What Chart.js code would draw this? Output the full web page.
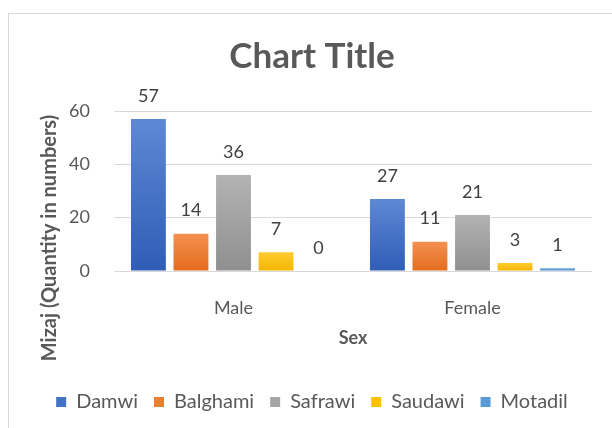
<!DOCTYPE html>
<html>
<head>
<meta charset="utf-8">
<script src="https://cdn.jsdelivr.net/npm/chart.js@4/dist/chart.umd.min.js"></script>
<style>
  html, body { margin: 0; padding: 0; background: #ffffff; overflow: hidden; width: 612px; height: 428px; }
  #frame { position: absolute; left: 8px; top: 13px; width: 700px; height: 500px; border: 1px solid #d9d9d9; box-sizing: border-box; }
  #c { position: absolute; left: 0; top: 0; }
</style>
</head>
<body>
<div id="frame"></div>
<canvas id="c" width="612" height="428"></canvas>
<script>
// ---- data ----
const categories = ['Male', 'Female'];
const seriesNames = ['Damwi', 'Balghami', 'Safrawi', 'Saudawi', 'Motadil'];
const damwi    = [57, 27];
const balghami = [14, 11];
const safrawi  = [36, 21];
const saudawi  = [7, 3];
const motadil  = [0, 1];
const yTicks   = [0, 20, 40, 60];
const chartTitle = 'Chart Title';
const xTitle = 'Sex';
const yTitle = 'Mizaj (Quantity in numbers)';

// ---- styles ----
const seriesValues = [damwi, balghami, safrawi, saudawi, motadil];
const solid = ['#4472C4', '#ED7D31', '#A5A5A5', '#FFC000', '#5B9BD5'];
const gradTop = ['#5F88D4', '#F39150', '#B3B3B3', '#FFCB30', '#6CA7DD'];
const gradBot = ['#2F5DB7', '#E46C1E', '#8F8F8F', '#F2B500', '#4B8BCC'];
const textColor = '#595959';

Chart.defaults.font.family = 'Lato, "Open Sans", sans-serif';
Chart.defaults.color = textColor;

function barFill(i) {
  return function (c) {
    const chart = c.chart;
    if (!chart.chartArea || c.type !== 'data') return solid[i];
    const y = chart.scales.y;
    const top = y.getPixelForValue(c.raw);
    const bot = y.getPixelForValue(0);
    if (Math.abs(bot - top) < 1) return solid[i];
    const g = chart.ctx.createLinearGradient(0, top, 0, bot);
    g.addColorStop(0, gradTop[i]);
    g.addColorStop(1, gradBot[i]);
    return g;
  };
}

const datasets = seriesNames.map((name, i) => ({
  label: name,
  data: seriesValues[i],
  backgroundColor: barFill(i),
  borderWidth: 0,
  categoryPercentage: 0.89,
  barPercentage: 0.82
}));

const valueLabels = {
  id: 'valueLabels',
  afterDatasetsDraw(chart) {
    const ctx = chart.ctx;
    ctx.save();
    ctx.font = '18px Lato, "Open Sans", sans-serif';
    ctx.fillStyle = '#404040';
    ctx.textAlign = 'center';
    ctx.textBaseline = 'middle';
    chart.data.datasets.forEach((ds, di) => {
      const meta = chart.getDatasetMeta(di);
      meta.data.forEach((el, j) => {
        ctx.fillText(String(ds.data[j]), el.x, el.y - 23);
      });
    });
    ctx.restore();
  }
};

const yTitlePlugin = {
  id: 'yTitlePlugin',
  afterDraw(chart) {
    const ctx = chart.ctx;
    ctx.save();
    ctx.translate(50, 238);
    ctx.rotate(-Math.PI / 2);
    ctx.font = 'bold 20px Lato, "Open Sans", sans-serif';
    ctx.fillStyle = textColor;
    ctx.textAlign = 'center';
    ctx.textBaseline = 'middle';
    ctx.fillText(yTitle, 0, 0);
    ctx.restore();
  }
};

new Chart(document.getElementById('c'), {
  type: 'bar',
  data: { labels: categories, datasets },
  plugins: [valueLabels, yTitlePlugin],
  options: {
    responsive: false,
    devicePixelRatio: 1,
    animation: false,
    layout: { padding: { left: 32, right: 20, top: 0, bottom: 6 } },
    plugins: {
      title: {
        display: true,
        text: chartTitle,
        color: textColor,
        font: { size: 35, weight: 'bold' },
        padding: { top: 36, bottom: 33 }
      },
      legend: {
        position: 'bottom',
        labels: {
          boxWidth: 10,
          boxHeight: 10,
          padding: 16,
          color: textColor,
          font: { size: 20 },
          generateLabels(chart) {
            const items = Chart.defaults.plugins.legend.labels.generateLabels(chart);
            items.forEach((it, i) => { it.fillStyle = solid[i]; it.strokeStyle = solid[i]; it.lineWidth = 0; });
            return items;
          }
        }
      },
      tooltip: { enabled: false }
    },
    scales: {
      x: {
        grid: { display: false },
        border: { display: false },
        ticks: { color: textColor, font: { size: 18 }, padding: 18 },
        title: { display: true, text: xTitle, color: textColor, font: { size: 18, weight: 'bold' }, padding: { top: 0, bottom: 27 } },
        afterFit(scale) { scale.height = 105; }
      },
      y: {
        min: 0,
        max: 60,
        grid: { color: '#D9D9D9', lineWidth: 1, drawTicks: false },
        border: { display: false },
        ticks: { color: textColor, font: { size: 18 }, padding: 24 },
        afterBuildTicks(scale) { scale.ticks = yTicks.map(v => ({ value: v })); },
        afterFit(scale) { scale.width = 82; }
      }
    }
  }
});
</script>
</body>
</html>
